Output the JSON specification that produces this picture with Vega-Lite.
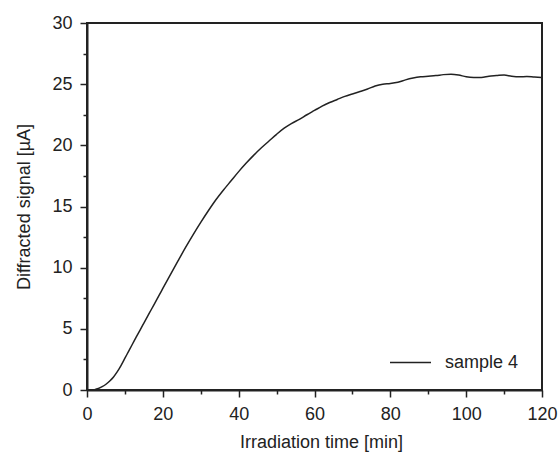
{
  "$schema": "https://vega.github.io/schema/vega-lite/v6.json",
  "width": 455,
  "height": 367,
  "autosize": {"type": "none"},
  "padding": {"left": 87, "top": 23, "right": 18, "bottom": 62},
  "background": "white",
  "config": {
    "font": "Liberation Sans",
    "view": {"stroke": "#222", "strokeWidth": 2},
    "axis": {
      "domainColor": "#222", "domainWidth": 2,
      "tickColor": "#222", "tickWidth": 1.5,
      "labelColor": "#222", "labelFont": "Liberation Sans", "labelFontSize": 18,
      "titleColor": "#222", "titleFont": "Liberation Sans", "titleFontSize": 18, "titleFontWeight": "normal",
      "grid": false, "labelFlush": false, "labelOverlap": false, "labelBound": false
    },
    "legend": {"labelFont": "Liberation Sans", "labelFontSize": 18, "labelColor": "#222", "padding": 0}
  },
  "data": {"values": [
    {"t": 0, "s": 0}, {"t": 1, "s": 0}, {"t": 2, "s": 0.03}, {"t": 3, "s": 0.12}, {"t": 4, "s": 0.27},
    {"t": 5, "s": 0.47}, {"t": 6, "s": 0.74}, {"t": 7, "s": 1.07}, {"t": 8, "s": 1.5}, {"t": 9, "s": 2.02},
    {"t": 10, "s": 2.6}, {"t": 11, "s": 3.18}, {"t": 12, "s": 3.76}, {"t": 13, "s": 4.34}, {"t": 14, "s": 4.9},
    {"t": 15, "s": 5.47}, {"t": 16, "s": 6.04}, {"t": 17, "s": 6.6}, {"t": 18, "s": 7.17}, {"t": 19, "s": 7.73},
    {"t": 20, "s": 8.3}, {"t": 22, "s": 9.43}, {"t": 24, "s": 10.55}, {"t": 26, "s": 11.65}, {"t": 28, "s": 12.7},
    {"t": 30, "s": 13.7}, {"t": 32, "s": 14.65}, {"t": 34, "s": 15.55}, {"t": 36, "s": 16.35}, {"t": 38, "s": 17.1},
    {"t": 40, "s": 17.85}, {"t": 42, "s": 18.55}, {"t": 44, "s": 19.2}, {"t": 46, "s": 19.8}, {"t": 48, "s": 20.35},
    {"t": 50, "s": 20.9}, {"t": 52, "s": 21.4}, {"t": 54, "s": 21.8}, {"t": 56, "s": 22.12}, {"t": 58, "s": 22.5},
    {"t": 60, "s": 22.85}, {"t": 62, "s": 23.2}, {"t": 64, "s": 23.5}, {"t": 66, "s": 23.75}, {"t": 68, "s": 24.0},
    {"t": 70, "s": 24.2}, {"t": 72, "s": 24.4}, {"t": 74, "s": 24.6}, {"t": 76, "s": 24.85}, {"t": 78, "s": 25.0},
    {"t": 80, "s": 25.05}, {"t": 82, "s": 25.15}, {"t": 84, "s": 25.35}, {"t": 86, "s": 25.5}, {"t": 88, "s": 25.6},
    {"t": 90, "s": 25.65}, {"t": 92, "s": 25.7}, {"t": 94, "s": 25.78}, {"t": 96, "s": 25.82}, {"t": 98, "s": 25.75},
    {"t": 100, "s": 25.6}, {"t": 102, "s": 25.55}, {"t": 104, "s": 25.55}, {"t": 106, "s": 25.65}, {"t": 108, "s": 25.7},
    {"t": 110, "s": 25.75}, {"t": 112, "s": 25.65}, {"t": 114, "s": 25.6}, {"t": 116, "s": 25.62}, {"t": 118, "s": 25.58},
    {"t": 120, "s": 25.55}
  ]},
  "transform": [{"calculate": "'sample 4'", "as": "series"}],
  "mark": {"type": "line", "strokeWidth": 1.5, "clip": true, "interpolate": "monotone"},
  "encoding": {
    "x": {
      "field": "t", "type": "quantitative",
      "scale": {"domain": [0, 120], "nice": false, "zero": false},
      "axis": {
        "title": "Irradiation time [min]",
        "values": [0, 10, 20, 30, 40, 50, 60, 70, 80, 90, 100, 110, 120],
        "labelExpr": "datum.value % 20 === 0 ? datum.label : ''",
        "tickSize": {"condition": {"test": "datum.value % 20 !== 0", "value": 4}, "value": 7},
        "labelPadding": 8,
        "titlePadding": 10,
        "titleX": 234
      }
    },
    "y": {
      "field": "s", "type": "quantitative",
      "scale": {"domain": [0, 30], "nice": false, "zero": false},
      "axis": {
        "title": "Diffracted signal [µA]",
        "values": [0, 2.5, 5, 7.5, 10, 12.5, 15, 17.5, 20, 22.5, 25, 27.5, 30],
        "labelExpr": "datum.value % 5 === 0 ? datum.label : ''",
        "tickSize": {"condition": {"test": "datum.value % 5 !== 0", "value": 4}, "value": 7},
        "labelPadding": 8,
        "titlePadding": 18
      }
    },
    "color": {
      "field": "series", "type": "nominal",
      "scale": {"domain": ["sample 4"], "range": ["#222222"]},
      "legend": {
        "title": null, "orient": "none", "legendX": 302, "legendY": 318,
        "symbolType": "stroke", "symbolSize": 1681, "symbolStrokeWidth": 1.5,
        "labelOffset": 13
      }
    }
  }
}
